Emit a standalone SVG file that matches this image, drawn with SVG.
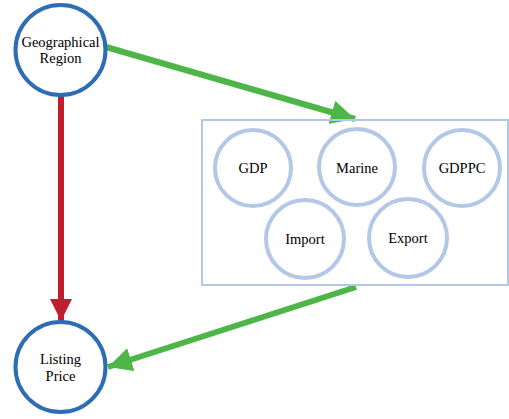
<svg xmlns="http://www.w3.org/2000/svg" width="509" height="419" viewBox="0 0 509 419">
<style>
.main{fill:#fff;stroke:#2E6DB4;stroke-width:4}
.sub{fill:#fff;stroke:#B4C7E7;stroke-width:4}
.box{fill:none;stroke:#B4C7E7;stroke-width:2}
text{font-family:"Liberation Serif","Times New Roman",serif;font-size:14.5px;fill:#000;text-anchor:middle}
.red{stroke:#BE1E2D;stroke-width:6;fill:none}
.green{stroke:#4EB648;stroke-width:6;fill:none}
</style>
<defs>
<marker id="ar" markerUnits="userSpaceOnUse" markerWidth="22" markerHeight="22" refX="20" refY="10" orient="auto" viewBox="0 0 20 20">
<path d="M0,0 L20,10 L0,20 Z" fill="#BE1E2D"/>
</marker>
<marker id="ag" markerUnits="userSpaceOnUse" markerWidth="24" markerHeight="24" refX="22" refY="11" orient="auto" viewBox="0 0 22 22">
<path d="M0,0 L22,11 L0,22 Z" fill="#4EB648"/>
</marker>
</defs>
<g id="connectors">
<line class="red" x1="61" y1="95" x2="61" y2="321" marker-end="url(#ar)"/>
<line class="green" x1="106" y1="47" x2="355" y2="119" marker-end="url(#ag)"/>
<line class="green" x1="356" y1="287" x2="108" y2="367" marker-end="url(#ag)"/>
</g>
<g id="geo">
<circle class="main" cx="60.5" cy="50" r="45"/>
<text x="60.5" y="47">Geographical</text>
<text x="60.5" y="63">Region</text>
</g>
<g id="price">
<circle class="main" cx="60.5" cy="367" r="45"/>
<text x="60.5" y="364">Listing</text>
<text x="60.5" y="381">Price</text>
</g>
<g id="group">
<rect class="box" x="202" y="120" width="306" height="165"/>
</g>
<g id="gdp"><circle class="sub" cx="253" cy="168" r="38"/><text x="253" y="173">GDP</text></g>
<g id="marine"><circle class="sub" cx="357" cy="167" r="38"/><text x="357" y="173">Marine</text></g>
<g id="gdppc"><circle class="sub" cx="462" cy="168" r="38"/><text x="462" y="173">GDPPC</text></g>
<g id="import"><circle class="sub" cx="305" cy="239" r="39"/><text x="305" y="244">Import</text></g>
<g id="export"><circle class="sub" cx="408" cy="238" r="39"/><text x="408" y="243">Export</text></g>
</svg>
